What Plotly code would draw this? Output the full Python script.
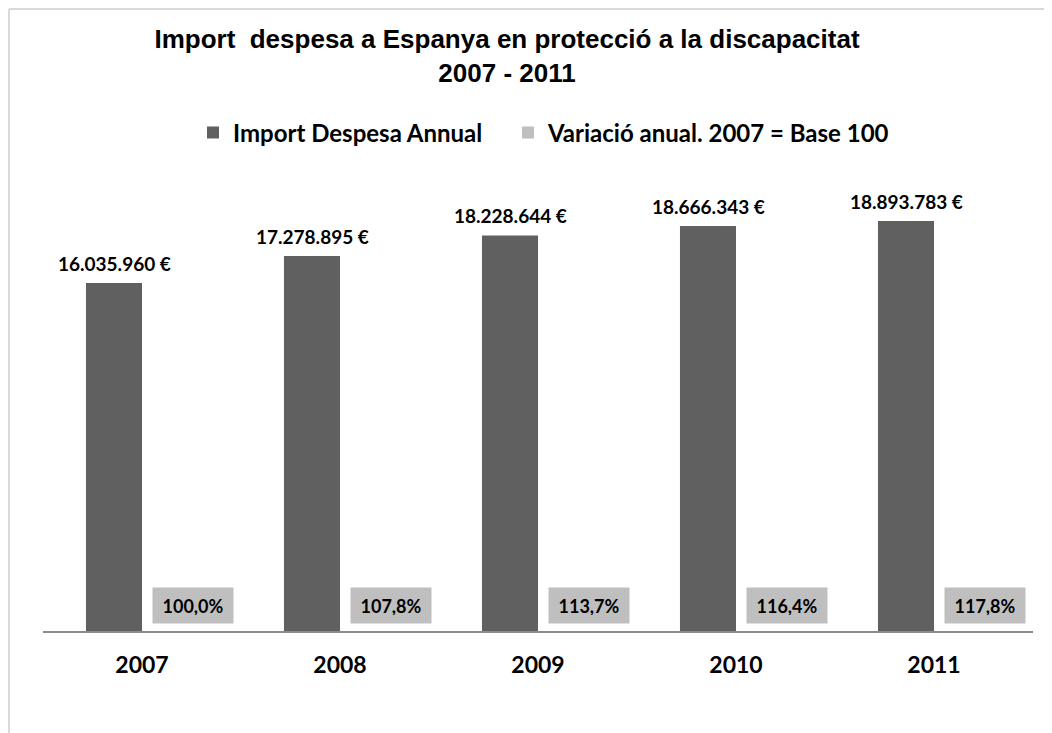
import plotly.graph_objects as go

years = [2007, 2008, 2009, 2010, 2011]
despesa = [16035960, 17278895, 18228644, 18666343, 18893783]
variacio = [100.0, 107.8, 113.7, 116.4, 117.8]

series_names = ["Import Despesa Annual", "Variació anual. 2007 = Base 100"]
title_text = "Import  despesa a Espanya en protecció a la discapacitat<br>2007 - 2011"

DARK = "#606060"
LIGHT = "#bfbfbf"
CAL = "Lato, 'Open Sans', sans-serif"

W, H = 1044, 725
L, R, T, B = 35, 19, 189, 102
PW, PH = W - L - R, H - T - B

def fmt_eur(v):
    return f"{v:,}".replace(",", ".") + " €"

def fmt_pct(v):
    return f"{v:.1f}".replace(".", ",") + "%"

fig = go.Figure()
fig.add_trace(go.Bar(x=years, y=despesa, name=series_names[0], marker_color=DARK,
                     marker_line_width=0, legend="legend"))
fig.add_trace(go.Bar(x=years, y=variacio, name=series_names[1], marker_color=LIGHT,
                     marker_line_width=0, legend="legend2"))

annotations = []
for yr, v in zip(years, despesa):
    annotations.append(dict(x=yr, y=v, xref="x", yref="y", text="<b>" + fmt_eur(v) + "</b>",
                            showarrow=False, xanchor="center", yanchor="bottom",
                            xshift=-28, yshift=6,
                            font=dict(family=CAL, size=19, color="#000000")))
for yr, v in zip(years, variacio):
    annotations.append(dict(x=yr, y=0, xref="x", yref="y", text="<b>" + fmt_pct(v) + "</b>",
                            showarrow=False, xanchor="left", yanchor="bottom",
                            xshift=10, yshift=7, bgcolor=LIGHT, borderpad=8,
                            width=64, height=19,
                            font=dict(family=CAL, size=18, color="#000000")))

legend_font = dict(family=CAL, size=24, color="#000000", weight="bold")

fig.update_layout(
    width=W, height=H,
    margin=dict(l=L, r=R, t=T, b=B),
    paper_bgcolor="white", plot_bgcolor="white",
    barmode="group", bargap=0.434, bargroupgap=0,
    title=dict(text="<b>" + title_text + "</b>", x=499 / W, xanchor="center",
               xref="container", y=1 - 40 / H, yanchor="top", yref="container",
               font=dict(family="Liberation Sans, Arial, sans-serif", size=26, color="#000000")),
    legend=dict(orientation="h", x=(185 - L) / PW, xanchor="left",
                y=1 - 125 / H, yref="container", yanchor="middle",
                font=legend_font),
    legend2=dict(orientation="h", x=(500 - L) / PW, xanchor="left",
                 y=1 - 125 / H, yref="container", yanchor="middle",
                 font=legend_font),
    annotations=annotations,
    showlegend=True,
)
fig.update_xaxes(range=[years[0] - 0.5, years[-1] + 0.5], tickvals=years,
                 ticktext=[str(y) for y in years],
                 showline=True, linecolor="#8c8c8c", linewidth=2, ticks="",
                 tickfont=dict(family=CAL, size=23, color="#000000", weight="bold"),
                 ticklabelstandoff=12, showgrid=False, zeroline=False)
fig.update_yaxes(range=[0, 20000000], visible=False, showgrid=False)

# light chart-area border (top and left edges visible)
fig.add_shape(type="line", xref="paper", yref="paper",
              x0=(1 - L) / PW, x1=1.2, y0=(PH + T - 1) / PH, y1=(PH + T - 1) / PH,
              line=dict(color="#d9d9d9", width=2))
fig.add_shape(type="line", xref="paper", yref="paper",
              x0=(1 - L) / PW, x1=(1 - L) / PW, y0=(PH + T - 1) / PH, y1=-0.5,
              line=dict(color="#d9d9d9", width=2))

for tr in fig.data:
    tr.cliponaxis = False

fig.write_html("out.html")
